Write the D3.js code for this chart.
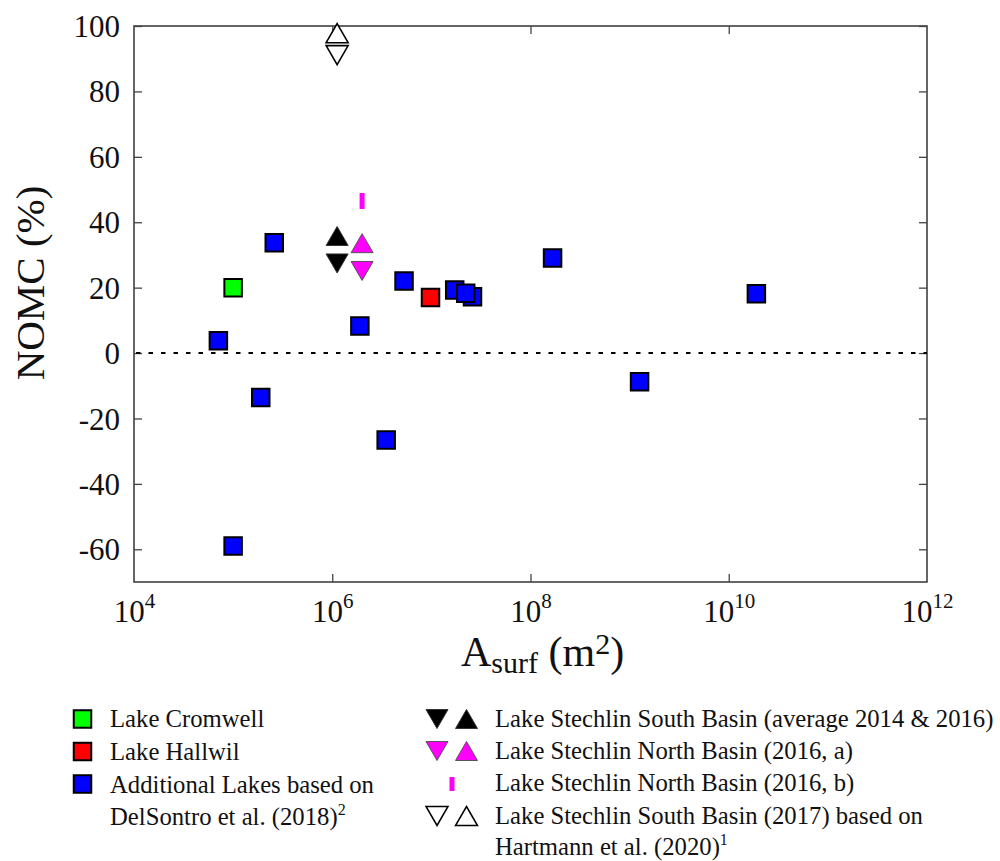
<!DOCTYPE html>
<html>
<head>
<meta charset="utf-8">
<script src="https://cdn.jsdelivr.net/npm/d3@7/dist/d3.min.js"></script>
<style>
	body { margin: 0; background: #fff; }
</style>
</head>
<body>
<div id="container"></div>
<script>
// values (area in m2, NOMC in %)
const blueArea = [7.1e4, 1.0e5, 1.9e5, 2.6e5, 1.9e6, 3.5e6, 5.3e6, 1.72e7, 2.6e7, 2.22e7, 1.67e8, 1.26e9, 1.9e10];
const blueNomc = [3.8, -59, -13.6, 33.7, 8.3, -26.6, 22.0, 19.3, 17.2, 18.3, 29.1, -8.8, 18.1];
const cromwellArea = [1.0e5];
const cromwellNomc = [20.0];
const hallwilArea = [9.8e6];
const hallwilNomc = [17.0];
const southArea = [1.12e6];
const southUp = [35.8];
const southDown = [27.4];
const northArea = [2.0e6];
const northUp = [33.6];
const northDown = [25.1];
const northBNomc = [46.5];
const hartmannUp = [97.8];
const hartmannDown = [91.1];
const yTicks = [-60, -40, -20, 0, 20, 40, 60, 80, 100];
const xExp = [4, 6, 8, 10, 12];

window.onload = function () {
	'use strict';
	let options = { width: 1000, height: 861, left: 134, right: 927, top: 26, bottom: 582 };
	let serif = '"Liberation Serif", "Times New Roman", serif';

	let svg = d3.select('#container')
		.append('svg')
		.attr('width', options.width)
		.attr('height', options.height)
		.style('font-family', serif);

	let x = d3.scaleLog().domain([1e4, 1e12]).range([options.left, options.right]);
	let y = d3.scaleLinear().domain([-70, 100]).range([options.bottom, options.top]);

	// plot box
	svg.append('rect')
		.attr('x', options.left).attr('y', options.top)
		.attr('width', options.right - options.left)
		.attr('height', options.bottom - options.top)
		.attr('fill', 'none').attr('stroke', '#333').attr('stroke-width', 1.5);

	let xVals = xExp.map(e => Math.pow(10, e));
	let inner = xVals.slice(1, -1);

	// axes (ticks point inside)
	let gLeft = svg.append('g').attr('transform', `translate(${options.left},0)`)
		.call(d3.axisLeft(y).tickValues(yTicks).tickSizeInner(-8).tickSizeOuter(0).tickPadding(14)
			.tickFormat(d => String(d)));
	svg.append('g').attr('transform', `translate(${options.right},0)`)
		.call(d3.axisRight(y).tickValues(yTicks).tickSizeInner(-8).tickSizeOuter(0).tickFormat(''));
	let gBottom = svg.append('g').attr('transform', `translate(0,${options.bottom})`)
		.call(d3.axisBottom(x).tickValues(xVals).tickSizeInner(-8).tickSizeOuter(0).tickFormat(''));
	svg.append('g').attr('transform', `translate(0,${options.top})`)
		.call(d3.axisTop(x).tickValues(inner).tickSizeInner(-8).tickSizeOuter(0).tickFormat(''));

	svg.selectAll('g').attr('font-family', null).attr('font-size', null);
	svg.selectAll('.domain').remove();
	svg.selectAll('.tick line').attr('stroke', '#444').attr('stroke-width', 1.3);
	gBottom.selectAll('.tick line').filter(d => d === 1e4 || d === 1e12).remove();

	gLeft.selectAll('.tick text')
		.style('font-family', serif)
		.style('font-size', '31px')
		.attr('fill', '#111')
		.attr('x', -14)
		.attr('dy', '0.34em');

	gBottom.selectAll('.tick')
		.append('text')
		.attr('y', 40)
		.attr('text-anchor', 'middle')
		.attr('fill', '#111')
		.style('font-family', serif)
		.style('font-size', '31px')
		.each(function (d) {
			let t = d3.select(this);
			t.append('tspan').text('10');
			t.append('tspan').attr('dy', -14).style('font-size', '21px').text(Math.round(Math.log10(d)));
		});

	// zero line
	svg.append('line')
		.attr('x1', options.left + 2).attr('x2', options.right)
		.attr('y1', y(0)).attr('y2', y(0))
		.attr('stroke', '#000').attr('stroke-width', 2)
		.attr('stroke-dasharray', '4.5,8');

	// markers
	function tri(cx, cy, w, h, up) {
		let p = d3.path();
		if (up) {
			p.moveTo(cx, cy - h / 2); p.lineTo(cx + w / 2, cy + h / 2); p.lineTo(cx - w / 2, cy + h / 2);
		} else {
			p.moveTo(cx, cy + h / 2); p.lineTo(cx + w / 2, cy - h / 2); p.lineTo(cx - w / 2, cy - h / 2);
		}
		p.closePath();
		return p.toString();
	}
	let square = d3.symbol().type(d3.symbolSquare).size(17.5 * 17.5);

	function drawSquares(area, nomc, color) {
		svg.append('g').selectAll('path')
			.data(area.map((a, i) => ({ a: a, v: nomc[i] })))
			.enter()
			.append('path')
			.attr('d', square)
			.attr('transform', d => `translate(${x(d.a)},${y(d.v)})`)
			.attr('fill', color)
			.attr('stroke', '#000')
			.attr('stroke-width', 2);
	}
	function drawTris(area, nomc, up, fill, stroke, sw) {
		svg.append('g').selectAll('path')
			.data(area.map((a, i) => ({ a: a, v: nomc[i] })))
			.enter()
			.append('path')
			.attr('d', d => tri(x(d.a), y(d.v), 22, 19, up))
			.attr('fill', fill)
			.attr('stroke', stroke)
			.attr('stroke-width', sw)
			.attr('stroke-linejoin', 'miter');
	}

	drawSquares(cromwellArea, cromwellNomc, '#00ff00');
	drawSquares(hallwilArea, hallwilNomc, '#ff0000');
	drawSquares(blueArea, blueNomc, '#0000ff');

	drawTris(southArea, southUp, true, '#000', '#333', 1);
	drawTris(southArea, southDown, false, '#000', '#333', 1);
	drawTris(northArea, northUp, true, '#ff00ff', '#555', 1);
	drawTris(northArea, northDown, false, '#ff00ff', '#555', 1);
	drawTris(southArea, hartmannDown, false, '#fff', '#000', 1.6);
	drawTris(southArea, hartmannUp, true, '#fff', '#000', 1.6);

	svg.append('g').selectAll('rect')
		.data(northArea.map((a, i) => ({ a: a, v: northBNomc[i] })))
		.enter()
		.append('rect')
		.attr('x', d => x(d.a) - 2.5)
		.attr('y', d => y(d.v) - 8)
		.attr('width', 5)
		.attr('height', 16)
		.attr('fill', '#ff00ff');

	// axis titles
	svg.append('text')
		.attr('transform', 'translate(44,283) rotate(-90)')
		.attr('text-anchor', 'middle')
		.attr('fill', '#111')
		.style('font-size', '41px')
		.text('NOMC (%)');

	let xl = svg.append('text')
		.attr('x', 461).attr('y', 666)
		.attr('fill', '#111')
		.style('font-size', '42px');
	xl.append('tspan').text('A');
	xl.append('tspan').attr('dy', 7).style('font-size', '30px').text('surf');
	xl.append('tspan').attr('dy', -7).text(' (m');
	xl.append('tspan').attr('dy', -12).style('font-size', '30px').text('2');
	xl.append('tspan').attr('dy', 12).text(')');

	// legend
	let leg = svg.append('g').style('font-size', '24.7px').attr('fill', '#111');
	let sqItems = [['#00ff00', 719], ['#ff0000', 751.5], ['#0000ff', 784]];
	leg.selectAll('path.sq')
		.data(sqItems)
		.enter()
		.append('path')
		.attr('d', square)
		.attr('transform', d => `translate(82.5,${d[1]})`)
		.attr('fill', d => d[0])
		.attr('stroke', '#000')
		.attr('stroke-width', 2);

	let leftText = ['Lake Cromwell', 'Lake Hallwil', 'Additional Lakes based on'];
	leftText.forEach((t, i) => {
		leg.append('text').attr('x', 110).attr('y', 727.3 + i * 32.7).text(t);
	});
	let dl = leg.append('text').attr('x', 110).attr('y', 727.3 + 3 * 32.7);
	dl.append('tspan').text('DelSontro et al. (2018)');
	dl.append('tspan').attr('dy', -10).style('font-size', '16px').text('2');

	let rowY = [719, 751, 784, 816];
	leg.append('path').attr('d', tri(437, rowY[0], 22, 19, false)).attr('fill', '#000').attr('stroke', '#333');
	leg.append('path').attr('d', tri(466.5, rowY[0], 22, 19, true)).attr('fill', '#000').attr('stroke', '#333');
	leg.append('path').attr('d', tri(437, rowY[1], 22, 19, false)).attr('fill', '#ff00ff').attr('stroke', '#555');
	leg.append('path').attr('d', tri(466.5, rowY[1], 22, 19, true)).attr('fill', '#ff00ff').attr('stroke', '#555');
	leg.append('rect').attr('x', 449.5).attr('y', rowY[2] - 7).attr('width', 5).attr('height', 14).attr('fill', '#ff00ff');
	leg.append('path').attr('d', tri(437, rowY[3], 22, 19, false)).attr('fill', '#fff').attr('stroke', '#000').attr('stroke-width', 1.5);
	leg.append('path').attr('d', tri(466.5, rowY[3], 22, 19, true)).attr('fill', '#fff').attr('stroke', '#000').attr('stroke-width', 1.5);

	let rightText = [
		'Lake Stechlin South Basin (average 2014 & 2016)',
		'Lake Stechlin North Basin (2016, a)',
		'Lake Stechlin North Basin (2016, b)',
		'Lake Stechlin South Basin (2017) based on'
	];
	rightText.forEach((t, i) => {
		leg.append('text').attr('x', 495).attr('y', 727 + i * 32.2).text(t);
	});
	let hm = leg.append('text').attr('x', 495).attr('y', 855);
	hm.append('tspan').text('Hartmann et al. (2020)');
	hm.append('tspan').attr('dy', -10).style('font-size', '16px').text('1');
};
</script>
</body>
</html>
